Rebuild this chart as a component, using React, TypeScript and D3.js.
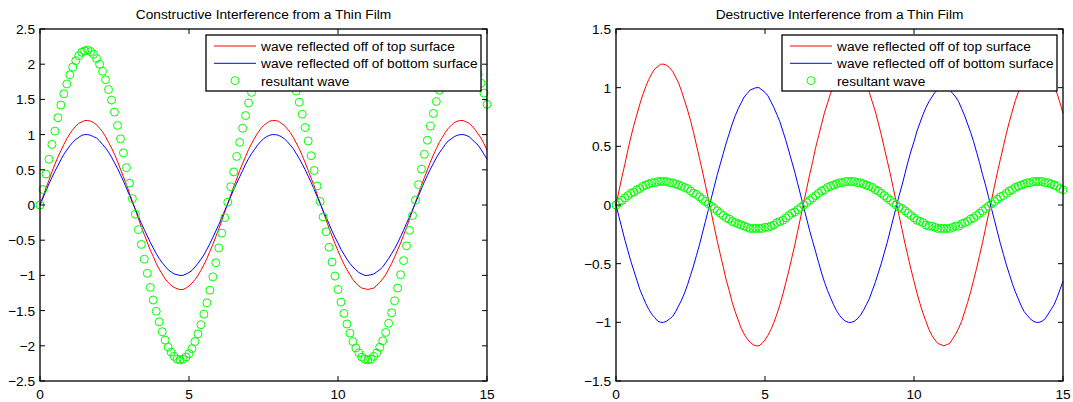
import React from "react"
import * as d3 from "d3"

// sample positions along the film (0 to 15, every 0.1)
const xValues = [
  0, 0.1, 0.2, 0.3, 0.4, 0.5, 0.6, 0.7, 0.8, 0.9,
  1, 1.1, 1.2, 1.3, 1.4, 1.5, 1.6, 1.7, 1.8, 1.9,
  2, 2.1, 2.2, 2.3, 2.4, 2.5, 2.6, 2.7, 2.8, 2.9,
  3, 3.1, 3.2, 3.3, 3.4, 3.5, 3.6, 3.7, 3.8, 3.9,
  4, 4.1, 4.2, 4.3, 4.4, 4.5, 4.6, 4.7, 4.8, 4.9,
  5, 5.1, 5.2, 5.3, 5.4, 5.5, 5.6, 5.7, 5.8, 5.9,
  6, 6.1, 6.2, 6.3, 6.4, 6.5, 6.6, 6.7, 6.8, 6.9,
  7, 7.1, 7.2, 7.3, 7.4, 7.5, 7.6, 7.7, 7.8, 7.9,
  8, 8.1, 8.2, 8.3, 8.4, 8.5, 8.6, 8.7, 8.8, 8.9,
  9, 9.1, 9.2, 9.3, 9.4, 9.5, 9.6, 9.7, 9.8, 9.9,
  10, 10.1, 10.2, 10.3, 10.4, 10.5, 10.6, 10.7, 10.8, 10.9,
  11, 11.1, 11.2, 11.3, 11.4, 11.5, 11.6, 11.7, 11.8, 11.9,
  12, 12.1, 12.2, 12.3, 12.4, 12.5, 12.6, 12.7, 12.8, 12.9,
  13, 13.1, 13.2, 13.3, 13.4, 13.5, 13.6, 13.7, 13.8, 13.9,
  14, 14.1, 14.2, 14.3, 14.4, 14.5, 14.6, 14.7, 14.8, 14.9,
  15,
]

// red: wave off the top surface (same in both plots)
const topWave = [
  0, 0.12, 0.24, 0.35, 0.47, 0.58, 0.68, 0.77, 0.86, 0.94,
  1.01, 1.07, 1.12, 1.16, 1.18, 1.2, 1.2, 1.19, 1.17, 1.14,
  1.09, 1.04, 0.97, 0.89, 0.81, 0.72, 0.62, 0.51, 0.4, 0.29,
  0.17, 0.05, -0.07, -0.19, -0.31, -0.42, -0.53, -0.64, -0.73, -0.83,
  -0.91, -0.98, -1.05, -1.1, -1.14, -1.17, -1.19, -1.2, -1.2, -1.18,
  -1.15, -1.11, -1.06, -1.0, -0.93, -0.85, -0.76, -0.66, -0.56, -0.45,
  -0.34, -0.22, -0.1, 0.02, 0.14, 0.26, 0.37, 0.49, 0.59, 0.69,
  0.79, 0.87, 0.95, 1.02, 1.08, 1.13, 1.16, 1.19, 1.2, 1.2,
  1.19, 1.16, 1.13, 1.08, 1.03, 0.96, 0.88, 0.8, 0.7, 0.6,
  0.49, 0.38, 0.27, 0.15, 0.03, -0.09, -0.21, -0.33, -0.44, -0.55,
  -0.65, -0.75, -0.84, -0.92, -0.99, -1.06, -1.11, -1.15, -1.18, -1.19,
  -1.2, -1.19, -1.18, -1.14, -1.1, -1.05, -0.99, -0.91, -0.83, -0.74,
  -0.64, -0.54, -0.43, -0.32, -0.2, -0.08, 0.04, 0.16, 0.28, 0.39,
  0.5, 0.61, 0.71, 0.8, 0.89, 0.96, 1.03, 1.09, 1.13, 1.17,
  1.19, 1.2, 1.2, 1.18, 1.16, 1.12, 1.07, 1.01, 0.95, 0.87,
  0.78,
]

// blue, constructive case: in phase with the top wave
const bottomWaveInPhase = [
  0, 0.1, 0.2, 0.3, 0.39, 0.48, 0.56, 0.64, 0.72, 0.78,
  0.84, 0.89, 0.93, 0.96, 0.99, 1.0, 1.0, 0.99, 0.97, 0.95,
  0.91, 0.86, 0.81, 0.75, 0.68, 0.6, 0.52, 0.43, 0.34, 0.24,
  0.14, 0.04, -0.06, -0.16, -0.26, -0.35, -0.44, -0.53, -0.61, -0.69,
  -0.76, -0.82, -0.87, -0.92, -0.95, -0.98, -0.99, -1.0, -1.0, -0.98,
  -0.96, -0.93, -0.88, -0.83, -0.77, -0.71, -0.63, -0.55, -0.46, -0.37,
  -0.28, -0.18, -0.08, 0.02, 0.12, 0.22, 0.31, 0.4, 0.49, 0.58,
  0.66, 0.73, 0.79, 0.85, 0.9, 0.94, 0.97, 0.99, 1.0, 1.0,
  0.99, 0.97, 0.94, 0.9, 0.85, 0.8, 0.73, 0.66, 0.58, 0.5,
  0.41, 0.32, 0.22, 0.12, 0.02, -0.08, -0.17, -0.27, -0.37, -0.46,
  -0.54, -0.63, -0.7, -0.77, -0.83, -0.88, -0.92, -0.96, -0.98, -1.0,
  -1.0, -0.99, -0.98, -0.95, -0.92, -0.88, -0.82, -0.76, -0.69, -0.62,
  -0.54, -0.45, -0.36, -0.26, -0.17, -0.07, 0.03, 0.13, 0.23, 0.33,
  0.42, 0.51, 0.59, 0.67, 0.74, 0.8, 0.86, 0.91, 0.94, 0.97,
  0.99, 1.0, 1.0, 0.99, 0.97, 0.93, 0.89, 0.85, 0.79, 0.72,
  0.65,
]

// green circles, constructive case
const resultantConstructive = [
  0, 0.22, 0.44, 0.65, 0.86, 1.05, 1.24, 1.42, 1.58, 1.72,
  1.85, 1.96, 2.05, 2.12, 2.17, 2.19, 2.2, 2.18, 2.14, 2.08,
  2.0, 1.9, 1.78, 1.64, 1.49, 1.32, 1.13, 0.94, 0.74, 0.53,
  0.31, 0.09, -0.13, -0.35, -0.56, -0.77, -0.97, -1.17, -1.35, -1.51,
  -1.66, -1.8, -1.92, -2.02, -2.09, -2.15, -2.19, -2.2, -2.19, -2.16,
  -2.11, -2.04, -1.94, -1.83, -1.7, -1.55, -1.39, -1.21, -1.02, -0.82,
  -0.61, -0.4, -0.18, 0.04, 0.26, 0.47, 0.69, 0.89, 1.09, 1.27,
  1.45, 1.6, 1.75, 1.87, 1.98, 2.06, 2.13, 2.17, 2.2, 2.2,
  2.18, 2.13, 2.07, 1.98, 1.88, 1.76, 1.62, 1.46, 1.29, 1.1,
  0.91, 0.7, 0.49, 0.27, 0.05, -0.17, -0.38, -0.6, -0.81, -1.01,
  -1.2, -1.38, -1.54, -1.69, -1.82, -1.94, -2.03, -2.1, -2.16, -2.19,
  -2.2, -2.19, -2.15, -2.1, -2.02, -1.93, -1.81, -1.68, -1.53, -1.36,
  -1.18, -0.99, -0.79, -0.58, -0.36, -0.15, 0.07, 0.29, 0.51, 0.72,
  0.92, 1.12, 1.3, 1.47, 1.63, 1.77, 1.89, 1.99, 2.08, 2.14,
  2.18, 2.2, 2.2, 2.17, 2.12, 2.06, 1.97, 1.86, 1.73, 1.59,
  1.43,
]

// blue, destructive case: half a wavelength out of phase
const bottomWaveOutOfPhase = [
  0, -0.1, -0.2, -0.3, -0.39, -0.48, -0.56, -0.64, -0.72, -0.78,
  -0.84, -0.89, -0.93, -0.96, -0.99, -1.0, -1.0, -0.99, -0.97, -0.95,
  -0.91, -0.86, -0.81, -0.75, -0.68, -0.6, -0.52, -0.43, -0.34, -0.24,
  -0.14, -0.04, 0.06, 0.16, 0.26, 0.35, 0.44, 0.53, 0.61, 0.69,
  0.76, 0.82, 0.87, 0.92, 0.95, 0.98, 0.99, 1.0, 1.0, 0.98,
  0.96, 0.93, 0.88, 0.83, 0.77, 0.71, 0.63, 0.55, 0.46, 0.37,
  0.28, 0.18, 0.08, -0.02, -0.12, -0.22, -0.31, -0.4, -0.49, -0.58,
  -0.66, -0.73, -0.79, -0.85, -0.9, -0.94, -0.97, -0.99, -1.0, -1.0,
  -0.99, -0.97, -0.94, -0.9, -0.85, -0.8, -0.73, -0.66, -0.58, -0.5,
  -0.41, -0.32, -0.22, -0.12, -0.02, 0.08, 0.17, 0.27, 0.37, 0.46,
  0.54, 0.63, 0.7, 0.77, 0.83, 0.88, 0.92, 0.96, 0.98, 1.0,
  1.0, 0.99, 0.98, 0.95, 0.92, 0.88, 0.82, 0.76, 0.69, 0.62,
  0.54, 0.45, 0.36, 0.26, 0.17, 0.07, -0.03, -0.13, -0.23, -0.33,
  -0.42, -0.51, -0.59, -0.67, -0.74, -0.8, -0.86, -0.91, -0.94, -0.97,
  -0.99, -1.0, -1.0, -0.99, -0.97, -0.93, -0.89, -0.85, -0.79, -0.72,
  -0.65,
]

// green circles, destructive case
const resultantDestructive = [
  0, 0.02, 0.04, 0.06, 0.08, 0.1, 0.11, 0.13, 0.14, 0.16,
  0.17, 0.18, 0.19, 0.19, 0.2, 0.2, 0.2, 0.2, 0.19, 0.19,
  0.18, 0.17, 0.16, 0.15, 0.14, 0.12, 0.1, 0.09, 0.07, 0.05,
  0.03, 0.01, -0.01, -0.03, -0.05, -0.07, -0.09, -0.11, -0.12, -0.14,
  -0.15, -0.16, -0.17, -0.18, -0.19, -0.2, -0.2, -0.2, -0.2, -0.2,
  -0.19, -0.19, -0.18, -0.17, -0.15, -0.14, -0.13, -0.11, -0.09, -0.07,
  -0.06, -0.04, -0.02, 0.0, 0.02, 0.04, 0.06, 0.08, 0.1, 0.12,
  0.13, 0.15, 0.16, 0.17, 0.18, 0.19, 0.19, 0.2, 0.2, 0.2,
  0.2, 0.19, 0.19, 0.18, 0.17, 0.16, 0.15, 0.13, 0.12, 0.1,
  0.08, 0.06, 0.04, 0.02, 0.0, -0.02, -0.03, -0.05, -0.07, -0.09,
  -0.11, -0.13, -0.14, -0.15, -0.17, -0.18, -0.18, -0.19, -0.2, -0.2,
  -0.2, -0.2, -0.2, -0.19, -0.18, -0.18, -0.16, -0.15, -0.14, -0.12,
  -0.11, -0.09, -0.07, -0.05, -0.03, -0.01, 0.01, 0.03, 0.05, 0.07,
  0.08, 0.1, 0.12, 0.13, 0.15, 0.16, 0.17, 0.18, 0.19, 0.19,
  0.2, 0.2, 0.2, 0.2, 0.19, 0.19, 0.18, 0.17, 0.16, 0.14,
  0.13,
]

const xTicks = [0, 5, 10, 15]
const yTicksConstructive = [-2.5, -2, -1.5, -1, -0.5, 0, 0.5, 1, 1.5, 2, 2.5]
const yTicksDestructive = [-1.5, -1, -0.5, 0, 0.5, 1, 1.5]
const legendLabels = [
  "wave reflected off of top surface",
  "wave reflected off of bottom surface",
  "resultant wave",
]

const FONT = "'Liberation Sans', Arial, Helvetica, sans-serif"
const FS = 13.7
const TOP = 29
const BOTTOM = 381
const TICK = 5

const fmt = (v: number) => String(v).replace("-", "\u2212")

function Panel({ left, right, title, yTicks, red, blue, green }) {
  const x = d3.scaleLinear().domain([0, 15]).range([left, right])
  const y = d3.scaleLinear().domain([yTicks[0], yTicks[yTicks.length - 1]]).range([BOTTOM, TOP])

  const line = d3.line<number>()
    .x((d, i) => x(xValues[i]))
    .y(d => y(d))

  const legX = right - 281
  const legY = 35
  const rowH = 17.3

  return (
    <g>
      <text x={(left + right) / 2} y={19} textAnchor="middle" fontSize={FS} fontFamily={FONT}>{title}</text>

      <path d={line(red)} fill="none" stroke="#ff0000" strokeWidth={1} />
      <path d={line(blue)} fill="none" stroke="#0000ff" strokeWidth={1} />
      {green.map((v, i) => (
        <circle key={i} cx={x(xValues[i])} cy={y(v)} r={4} fill="none" stroke="#00ff00" strokeWidth={1} />
      ))}

      {/* axes box */}
      <rect x={left} y={TOP} width={right - left} height={BOTTOM - TOP} fill="none" stroke="#000" strokeWidth={1.3} />
      {xTicks.map(t => (
        <g key={"x" + t}>
          <line x1={x(t)} x2={x(t)} y1={BOTTOM} y2={BOTTOM - TICK} stroke="#000" />
          <line x1={x(t)} x2={x(t)} y1={TOP} y2={TOP + TICK} stroke="#000" />
          <text x={x(t)} y={399} textAnchor="middle" fontSize={FS} fontFamily={FONT}>{fmt(t)}</text>
        </g>
      ))}
      {yTicks.map(t => (
        <g key={"y" + t}>
          <line x1={left} x2={left + TICK} y1={y(t)} y2={y(t)} stroke="#000" />
          <line x1={right} x2={right - TICK} y1={y(t)} y2={y(t)} stroke="#000" />
          <text x={left - 5} y={y(t)} dy="0.36em" textAnchor="end" fontSize={FS} fontFamily={FONT}>{fmt(t)}</text>
        </g>
      ))}

      {/* legend */}
      <rect x={legX} y={legY} width={275} height={56} fill="#fff" stroke="#000" strokeWidth={1.3} />
      {legendLabels.map((label, i) => {
        const cy = legY + 11 + i * rowH
        return (
          <g key={label}>
            {i < 2
              ? <line x1={legX + 8} x2={legX + 50} y1={cy} y2={cy} stroke={i === 0 ? "#ff0000" : "#0000ff"} />
              : <circle cx={legX + 29} cy={cy} r={4} fill="none" stroke="#00ff00" />}
            <text x={legX + 55} y={cy} dy="0.36em" fontSize={FS} fontFamily={FONT}>{label}</text>
          </g>
        )
      })}
    </g>
  )
}

export default function App() {
  return (
    <svg width={1073} height={402} style={{ position: "fixed", left: 0, top: 0, background: "#fff" }}>
      <Panel left={40} right={487} title="Constructive Interference from a Thin Film"
        yTicks={yTicksConstructive} red={topWave} blue={bottomWaveInPhase} green={resultantConstructive} />
      <Panel left={616} right={1063} title="Destructive Interference from a Thin Film"
        yTicks={yTicksDestructive} red={topWave} blue={bottomWaveOutOfPhase} green={resultantDestructive} />
    </svg>
  )
}
